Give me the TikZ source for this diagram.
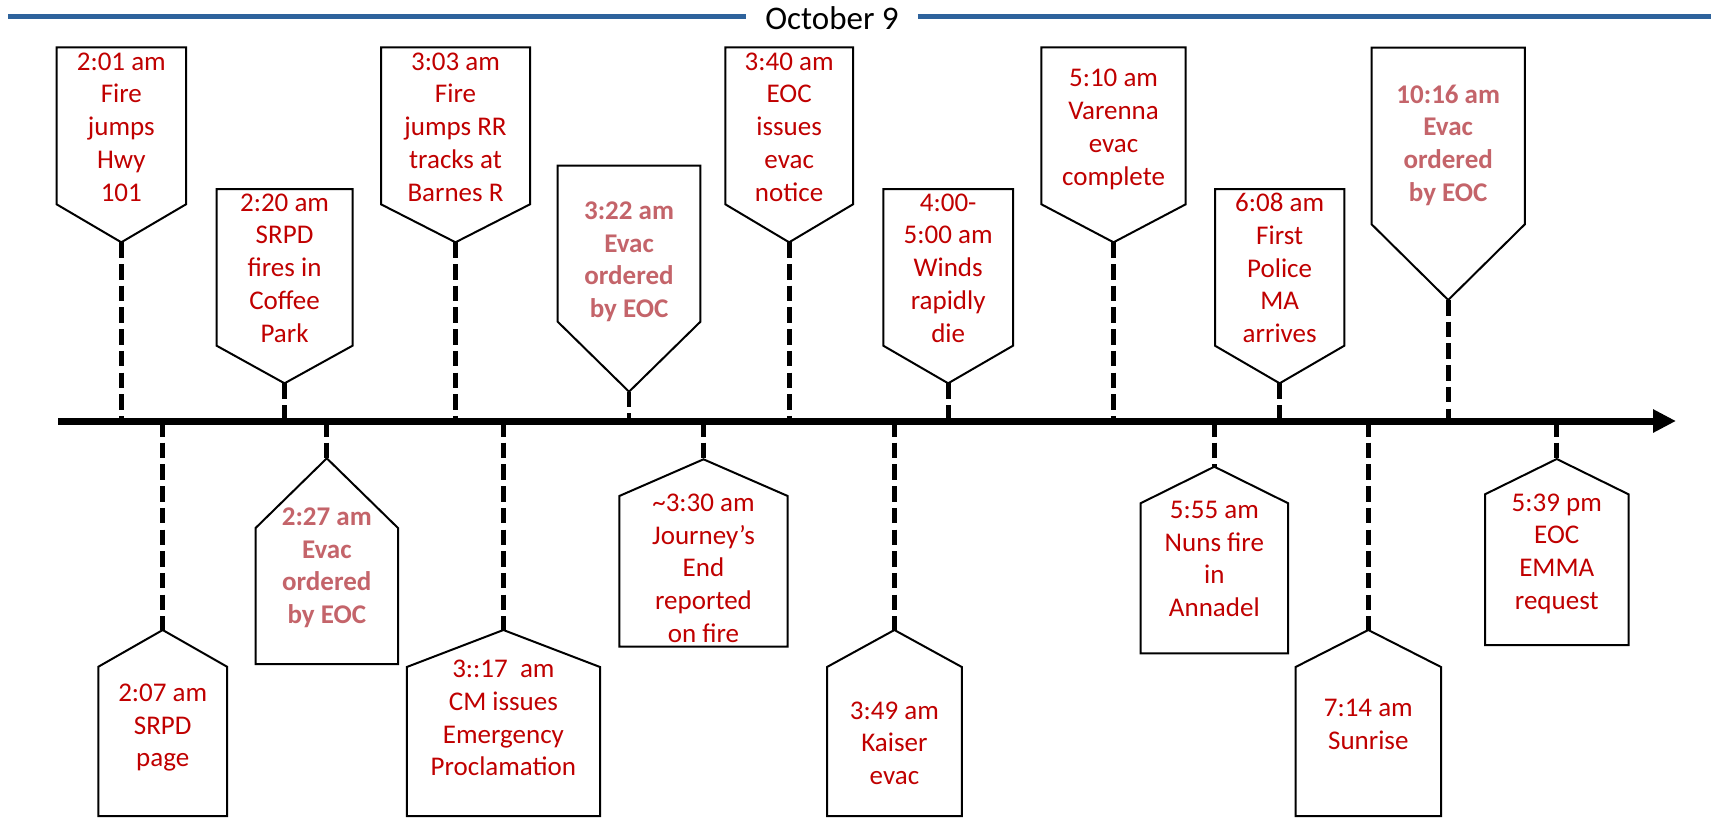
\documentclass[tikz,border=0pt]{standalone}
\usepackage{fontspec}
\setmainfont{Carlito}
\usetikzlibrary{arrows.meta}
\definecolor{evred}{RGB}{192,0,0}
\definecolor{evfade}{RGB}{196,100,106}
\definecolor{topblue}{RGB}{46,99,156}
\tikzset{
  boxline/.style={draw=black, line width=2pt, line join=miter, fill=white},
  dashline/.style={draw=black, line width=4.7pt, dash pattern=on 15.5pt off 6.2pt},
  axisline/.style={draw=black, line width=7pt, -{Triangle[length=23pt,width=22pt]}},
  evtext/.style={inner sep=0pt, align=center, text=evred, font=\fontsize{27}{32.8}\selectfont},
  evfaded/.style={inner sep=0pt, align=center, text=evfade, font=\fontsize{27}{32.8}\selectfont\bfseries},
  blueline/.style={draw=topblue, line width=5pt},
  titletext/.style={inner xsep=19pt, inner ysep=0pt, text=black, font=\fontsize{33}{36}\selectfont}
}
% #1 name, #2 xl, #3 xr, #4 top, #5 rect bottom, #6 tip y, #7 text y, #8 style, #9 text
\newcommand{\evtop}[9]{%
  \pgfmathsetmacro\xm{(#2+#3)/2}%
  \coordinate (#1tip) at (\xm,#6);
  \coordinate (#1ax) at (\xm,421);
  \draw[dashline] (#1tip) -- (#1ax);
  \draw[boxline] (#2,#4) -- (#3,#4) -- (#3,#5) -- (#1tip) -- (#2,#5) -- cycle;
  \node[#8] (#1) at (\xm,#7) {#9};
}
% #1 name, #2 xl, #3 xr, #4 tip y, #5 shoulder y, #6 bottom, #7 text y, #8 style, #9 text
\newcommand{\evbot}[9]{%
  \pgfmathsetmacro\xm{(#2+#3)/2}%
  \coordinate (#1tip) at (\xm,#4);
  \coordinate (#1ax) at (\xm,421);
  \draw[dashline] (#1ax) -- (#1tip);
  \draw[boxline] (#1tip) -- (#3,#5) -- (#3,#6) -- (#2,#6) -- (#2,#5) -- cycle;
  \node[#8] (#1) at (\xm,#7) {#9};
}
\begin{document}
\begin{tikzpicture}[x=1pt,y=-1pt]
\useasboundingbox (0,0) rectangle (1711,817);
\fill[white] (0,0) rectangle (1711,817);
% title bar
\coordinate (blL) at (8,16.7);
\coordinate (blR) at (1711,16.7);
\node[titletext, anchor=base] (title) at (832,29.5) {October 9};
\draw[blueline] (blL) -- (title.west |- blL);
\draw[blueline] (title.east |- blR) -- (blR);
% top events
\evtop{A}{56.6}{186}{47.3}{204.3}{242.3}{127}{evtext}{2:01 am\\Fire\\jumps\\Hwy\\101}
\evtop{B}{216.6}{352.5}{189}{345.7}{383.3}{268}{evtext}{2:20 am\\SRPD\\fires in\\Coffee\\Park}
\evtop{C}{381}{530}{47.3}{204.3}{242.3}{127}{evtext}{3:03 am\\Fire\\jumps RR\\tracks at\\Barnes R}
\evtop{D}{557.7}{700.4}{165.7}{321.7}{391.7}{261.7}{evfaded}{3:22 am\\Evac\\ordered\\by EOC}
\evtop{E}{725.3}{853}{47.3}{204.3}{242.3}{127}{evtext}{3:40 am\\EOC\\issues\\evac\\notice}
\evtop{F}{883.3}{1013}{189}{345.7}{383.3}{268}{evtext}{4:00-\\5:00 am\\Winds\\rapidly\\die}
\evtop{G}{1041.4}{1185.7}{47.3}{204.3}{242.3}{129.4}{evtext}{5:10 am\\Varenna\\evac\\complete}
\evtop{H}{1215}{1344.3}{189}{345.7}{383.3}{268}{evtext}{6:08 am\\First\\Police\\MA\\arrives}
\evtop{I}{1371.6}{1524.8}{47.7}{224.3}{300}{145.2}{evfaded}{10:16 am\\Evac\\ordered\\by EOC}
% bottom events
\evbot{a}{98.4}{227}{630}{666.7}{816}{727.7}{evtext}{2:07 am\\SRPD\\page}
\evbot{b}{255.6}{398}{458.3}{528}{664}{567.7}{evfaded}{2:27 am\\Evac\\ordered\\by EOC}
\evbot{c}{406.8}{600}{630}{667}{816}{718}{evtext}{3::17~ am\\CM issues\\Emergency\\Proclamation}
\evbot{d}{619.3}{787.7}{459.3}{496}{646.7}{568.3}{evtext}{\textasciitilde3:30 am\\Journey’s\\End\\reported\\on fire}
\evbot{e}{827}{961.8}{630}{667}{816}{743.3}{evtext}{3:49 am\\Kaiser\\evac}
\evbot{f}{1140.5}{1288.2}{466.7}{503.3}{653.3}{559}{evtext}{5:55 am\\Nuns fire\\in\\Annadel}
\evbot{g}{1295.6}{1441}{630}{667}{816}{724}{evtext}{7:14 am\\Sunrise}
\evbot{h}{1485}{1628.5}{459}{494.3}{645}{553.7}{evtext}{5:39 pm\\EOC\\EMMA\\request}
% axis
\coordinate (axstart) at (58,421);
\coordinate (axend) at (1676,421);
\draw[axisline] (axstart) -- (axend);
\end{tikzpicture}
\end{document}
